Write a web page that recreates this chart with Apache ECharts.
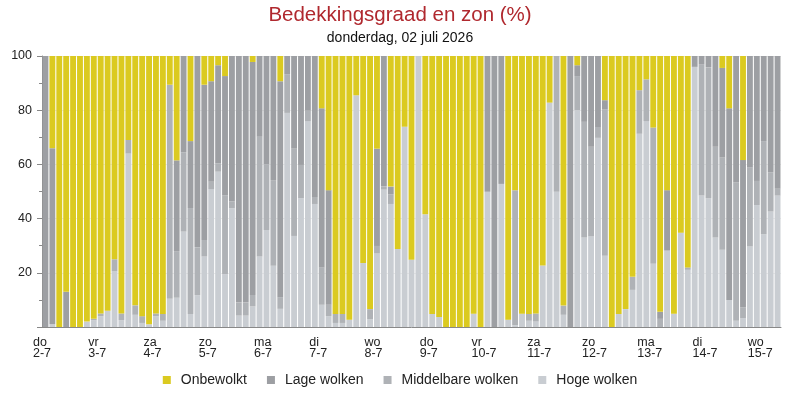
<!DOCTYPE html>
<html>
<head>
<meta charset="utf-8">
<script src="https://cdn.jsdelivr.net/npm/echarts@6/dist/echarts.min.js"></script>
<style>
  html, body { margin: 0; padding: 0; background: #fff; }
  #chart { width: 800px; height: 400px; }
</style>
</head>
<body>
<div id="chart"></div>
<script>
// dagen op de x-as (elke dag 8 blokken van 3 uur)
var dagNamen = ['do', 'vr', 'za', 'zo', 'ma', 'di', 'wo', 'do', 'vr', 'za', 'zo', 'ma', 'di', 'wo'];
var datums = ['2-7', '3-7', '4-7', '5-7', '6-7', '7-7', '8-7', '9-7', '10-7', '11-7', '12-7', '13-7', '14-7', '15-7'];
var uren = ['00', '03', '06', '09', '12', '15', '18', '21'];

// percentages per blok, van onder naar boven gestapeld
var hoge = [
  0, 1, 0, 0, 0, 0, 2, 2.5, 4, 6, 20.5, 2.5, 64, 4.5, 1.5, 1,
  4, 2.3, 10.4, 10.8, 35.2, 4.8, 11.7, 26, 50.9, 57.3, 19.5, 43.8, 4.2, 4.2, 7.6, 26,
  35.8, 22.6, 6.7, 79, 33.6, 47.5, 76, 45.4, 8.2, 4, 1.5, 1.5, 2.7, 85.5, 23.6, 2.9,
  27.1, 50.7, 45.4, 28.8, 73.9, 24.8, 100, 41.6, 4.8, 3.7, 0, 0, 0, 0, 4.9, 0,
  49.9, 0, 52.8, 2.7, 0.7, 4.9, 2.3, 2, 22.7, 82.8, 49.9, 4.5, 0, 80, 33, 33.4,
  69.8, 26.3, 0, 4.8, 6.6, 13.7, 71.3, 76, 23.3, 0, 28.2, 4.9, 34.8, 21.1, 96, 48.5,
  47.5, 33, 28.5, 10, 2.3, 3.3, 29.7, 45, 34.2, 42.6, 48.5
];
var middelbare = [
  0, 0, 0, 0, 0, 0, 0, 0.5, 1, 0, 4.5, 2.5, 5, 3.5, 2.5, 0,
  1, 2.5, 79, 17.2, 29.2, 39.1, 17.7, 6.1, 2.7, 3.1, 29, 2.5, 4.8, 4.8, 4.2, 44.2,
  24.3, 31.6, 4.3, 14.3, 32.2, 12.3, 3.8, 2.6, 13.8, 4.2, 3.3, 3.3, 0, 0, 0, 3.7,
  2.8, 1.1, 3.6, 0, 0, 0, 0, 0, 0, 0, 0, 0, 0, 0, 0, 0,
  0, 0, 0, 0, 49.8, 0, 2.5, 3, 0, 0, 50.1, 3.4, 0, 12.6, 42.7, 33.1,
  4, 53.9, 0, 0, 0, 4.8, 16.1, 15.4, 50.3, 3, 0, 0, 0, 0.9, 0, 48.3,
  48.3, 33.5, 34, 0, 51.1, 3.9, 29.1, 8.9, 34.4, 14.4, 2.5
];
var lage = [
  100, 65, 0, 13, 0, 0, 0, 0, 0, 0, 0, 0, 0, 0, 0, 0,
  0, 0, 0, 33.5, 35.6, 24.7, 70.6, 57.3, 37.1, 36.2, 44.1, 53.7, 91, 91, 86, 29.8,
  39.9, 45.8, 79.7, 6.7, 34.2, 40.2, 20.2, 52, 58.7, 42.3, 0, 0, 0, 0, 0, 0,
  35.9, 48.2, 2.8, 0, 0, 0, 0, 0, 0, 0, 0, 0, 0, 0, 0, 0,
  50.1, 100, 47.2, 0, 0, 0, 0, 0, 0, 0, 0, 0, 100, 4, 24.3, 33.5,
  26.2, 3.5, 0, 0, 0, 0, 0, 0, 0, 2.6, 22.3, 0, 0, 0, 4, 3.2,
  4.2, 33.5, 33.1, 70.7, 46.6, 54.4, 41.2, 46.1, 31.4, 43, 49
];
var onbewolkt = [
  0, 34, 100, 87, 100, 100, 98, 97, 95, 94, 75, 95, 31, 92, 96, 99,
  95, 95.2, 10.6, 38.5, 0, 31.4, 0, 10.6, 9.3, 3.4, 7.4, 0, 0, 0, 2.2, 0,
  0, 0, 9.3, 0, 0, 0, 0, 0, 19.3, 49.5, 95.2, 95.2, 97.3, 14.5, 76.4, 93.4,
  34.2, 0, 48.2, 71.2, 26.1, 75.2, 0, 58.4, 95.2, 96.3, 100, 100, 100, 100, 95.1, 100,
  0, 0, 0, 97.3, 49.5, 95.1, 95.2, 95, 77.3, 17.2, 0, 92.1, 0, 3.4, 0, 0,
  0, 16.3, 100, 95.2, 93.4, 81.5, 12.6, 8.6, 26.4, 94.4, 49.5, 95.1, 65.2, 78, 0, 0,
  0, 0, 4.4, 19.3, 0, 38.4, 0, 0, 0, 0, 0
];

var slots = [];
for (var d = 0; d < datums.length; d++) {
  for (var u = 0; u < uren.length; u++) {
    if (slots.length < hoge.length) slots.push(datums[d] + ' ' + uren[u] + ':00');
  }
}
var perDag = uren.length;

var font = '"Liberation Sans", Arial, Helvetica, sans-serif';
var kleuren = {
  onbewolkt: '#dbca20',
  lage: '#9d9fa3',
  middelbare: '#afb2b6',
  hoge: '#c9cdd2'
};

var chart = echarts.init(document.getElementById('chart'));

function reeks(naam, data, kleur) {
  return {
    name: naam,
    type: 'bar',
    stack: 'totaal',
    xAxisIndex: 0,
    data: data,
    barCategoryGap: '15%',
    itemStyle: { color: kleur },
    emphasis: { disabled: true }
  };
}

var option = {
  animation: false,
  textStyle: { fontFamily: font },
  title: {
    text: 'Bedekkingsgraad en zon (%)',
    subtext: 'donderdag, 02 juli 2026',
    left: 'center',
    top: 0,
    itemGap: 5,
    textStyle: { color: '#b0282e', fontSize: 20.5, fontWeight: 'normal', fontFamily: font },
    subtextStyle: { color: '#111', fontSize: 14, fontFamily: font }
  },
  legend: {
    bottom: 8,
    left: 'center',
    itemWidth: 8,
    itemHeight: 8,
    itemGap: 20,
    icon: 'rect',
    textStyle: { fontSize: 14, color: '#222', fontFamily: font, padding: [0, 0, 0, 5] },
    data: ['Onbewolkt', 'Lage wolken', 'Middelbare wolken', 'Hoge wolken']
  },
  grid: { left: 42, right: 19, top: 56, bottom: 73 },
  xAxis: [
    {
      type: 'category',
      data: slots,
      axisLine: { lineStyle: { color: '#888' } },
      axisTick: { show: false },
      axisLabel: { show: false }
    },
    {
      type: 'value',
      position: 'bottom',
      min: 0,
      max: slots.length,
      interval: perDag,
      axisLine: { show: false },
      axisTick: { show: false },
      splitLine: { show: false },
      axisLabel: {
        margin: 10,
        align: 'center',
        showMaxLabel: false,
        formatter: function (v) {
          var i = v / perDag;
          if (i !== Math.floor(i) || i >= dagNamen.length) return '';
          return '{a|' + dagNamen[i] + '}\n{a|' + datums[i] + '}';
        },
        rich: {
          a: { align: 'left', fontSize: 12.5, lineHeight: 11, color: '#222', fontFamily: font }
        }
      }
    }
  ],
  yAxis: {
    type: 'value',
    min: 0,
    max: 100,
    interval: 20,
    axisLine: { show: true, lineStyle: { color: '#888' } },
    axisTick: { show: true, length: 5, lineStyle: { color: '#888' } },
    minorTick: { show: true, splitNumber: 2, length: 3, lineStyle: { color: '#888' } },
    splitLine: { show: true, lineStyle: { color: '#ececec' } },
    axisLabel: {
      fontSize: 12.5,
      color: '#222',
      margin: 10,
      formatter: function (v) { return v === 0 ? '' : v; }
    }
  },
  series: [
    reeks('Hoge wolken', hoge, kleuren.hoge),
    reeks('Middelbare wolken', middelbare, kleuren.middelbare),
    reeks('Lage wolken', lage, kleuren.lage),
    reeks('Onbewolkt', onbewolkt, kleuren.onbewolkt)
  ]
};

chart.setOption(option);
</script>
</body>
</html>
